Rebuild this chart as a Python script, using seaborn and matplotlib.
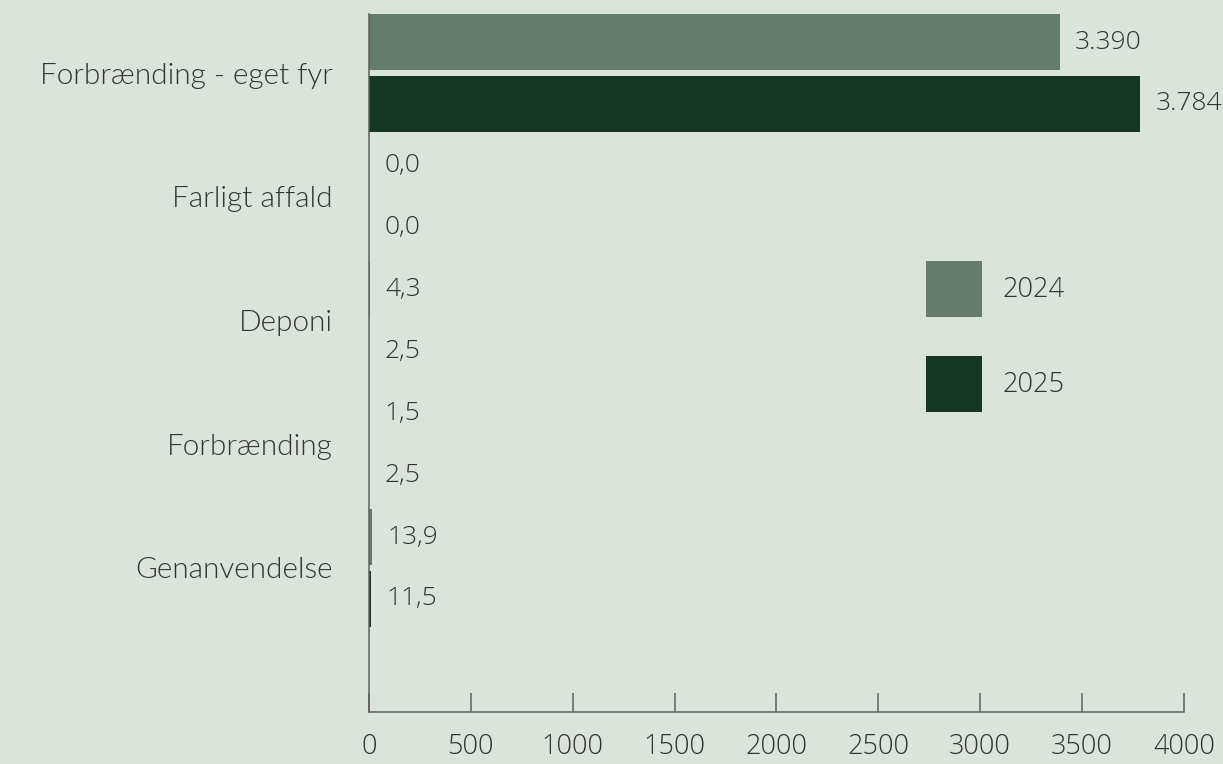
import matplotlib
matplotlib.use("Agg")
import matplotlib.pyplot as plt
from matplotlib.patches import Patch
import pandas as pd
import seaborn as sns

# Waste volumes by treatment type
categories = ["Forbrænding - eget fyr", "Farligt affald", "Deponi", "Forbrænding", "Genanvendelse"]
values_2024 = [3390, 0.0, 4.3, 1.5, 13.9]
values_2025 = [3784, 0.0, 2.5, 2.5, 11.5]
years = ["2024", "2025"]
x_ticks = [0, 500, 1000, 1500, 2000, 2500, 3000, 3500, 4000]

BG = "#dae4da"
COLORS = {"2024": "#647c6c", "2025": "#163624"}
TEXT = "#333333"
AXIS = "#5f5f5f"
NUM_FONT = dict(family=["Open Sans", "DejaVu Sans"], weight=300)
CAT_FONT = dict(family=["Lato", "DejaVu Sans"], weight=300)

df = pd.DataFrame({
    "kategori": categories * 2,
    "år": [years[0]] * len(categories) + [years[1]] * len(categories),
    "mængde": values_2024 + values_2025,
})

sns.set_theme(style="white")
plt.rcParams["font.family"] = ["Open Sans", "DejaVu Sans"]
plt.rcParams["font.weight"] = 300

fig = plt.figure(figsize=(12.23, 7.64), dpi=100, facecolor=BG)
ax = fig.add_axes([0.3017, 0.0681, 0.6664, 0.9136])
ax.set_facecolor(BG)

sns.barplot(
    data=df, y="kategori", x="mængde", hue="år", order=categories,
    hue_order=years, palette=COLORS, orient="h", width=1.0, gap=0.1,
    saturation=1, legend=False, ax=ax, errorbar=None, linewidth=0,
    edgecolor="none",
)


def dansk(v):
    if v >= 1000:
        return f"{v:,.0f}".replace(",", ".")
    return f"{v:.1f}".replace(".", ",")


for cont, vals in zip(ax.containers, [values_2024, values_2025]):
    ax.bar_label(cont, labels=[dansk(v) for v in vals], padding=11,
                 fontsize=19, color=TEXT, **NUM_FONT)

ax.set_xlim(0, 4000)
ax.set_ylim(5.164, -0.477)
ax.set_xticks(x_ticks)
ax.set_xticklabels([str(t) for t in x_ticks], fontsize=19.5, color=TEXT, **NUM_FONT)
ax.set_yticks(range(len(categories)))
ax.set_yticklabels(categories, fontsize=21.4, color=TEXT, **CAT_FONT)
ax.set_xlabel("")
ax.set_ylabel("")

for side in ["top", "right"]:
    ax.spines[side].set_visible(False)
for side in ["left", "bottom"]:
    ax.spines[side].set_color(AXIS)
    ax.spines[side].set_linewidth(1.1)

ax.tick_params(axis="x", direction="in", length=13.5, width=1.1, color=AXIS,
               pad=15, bottom=True)
ax.tick_params(axis="y", length=0, pad=26)

handles = [Patch(facecolor=COLORS[y], edgecolor="none", label=y) for y in years]
leg = ax.legend(
    handles=handles, loc="upper left", bbox_to_anchor=(926 / 1223, 1 - 261 / 764),
    bbox_transform=fig.transFigure, frameon=False,
    prop=dict(size=19.6, **NUM_FONT),
    handlelength=2.06, handleheight=2.79, labelspacing=1.43, handletextpad=0.75,
    borderpad=0, borderaxespad=0,
)
for t in leg.get_texts():
    t.set_color(TEXT)

fig.savefig("out.png", dpi=100, facecolor=BG)
